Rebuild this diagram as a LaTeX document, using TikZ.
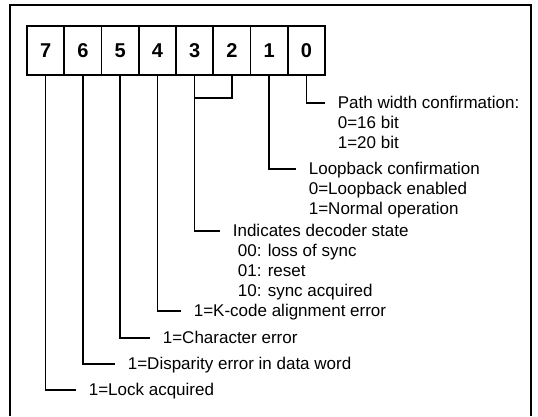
\documentclass[tikz,border=0pt]{standalone}
\usepackage{fontspec}
\setmainfont{Liberation Sans}
\usetikzlibrary{positioning}
\newcommand{\lbl}{\fontsize{17}{20}\selectfont}
\newcommand{\digit}{\fontsize{20}{22}\selectfont\bfseries}

\begin{document}
\begin{tikzpicture}[x=1pt,y=-1pt,line width=1.7pt,
  bitbox/.style={draw,minimum width=37.25pt,minimum height=49pt,inner sep=0pt,font=\digit},
  desc/.style={anchor=west,inner sep=0pt,text height=13pt,text depth=3pt,font=\lbl},
  lead/.style={shorten >=12pt}]
  \useasboundingbox (0,0) rectangle (538,416);
  %% outer frame (open at the bottom)
  \draw (10,416) -- (10,5) -- (531,5) -- (531,416);
  %% register bits 7..0
  \foreach \b [count=\i from 0] in {7,6,5,4,3,2,1,0}
    \node[bitbox] (b\b) at (45.6+37.25*\i,50.5) {\b};
  %% field descriptions
  \node[desc] (t0) at (337,103) {Path width confirmation:};
  \foreach \s [count=\k] in {0=16 bit,1=20 bit}
    \node[desc] (t0-\k) at (337,103+20*\k) {\s};
  \node[desc] (t1) at (308,169) {Loopback confirmation};
  \foreach \s [count=\k] in {0=Loopback enabled,1=Normal operation}
    \node[desc] (t1-\k) at (308,169+20*\k) {\s};
  \node[desc] (t3) at (232,231) {Indicates decoder state};
  \foreach \s [count=\k] in {00: loss of sync,01: reset,10: sync acquired}
    \node[desc] (t3-\k) at (237,231+20*\k) {\s};
  \node[desc] (t4) at (193,311) {1=K-code alignment error};
  \node[desc] (t5) at (162,338) {1=Character error};
  \node[desc] (t6) at (127,364) {1=Disparity error in data word};
  \node[desc] (t7) at (88,390) {1=Lock acquired};
  %% leader lines
  \coordinate (j32) at ([yshift=-22pt]b3.south);
  \draw (b2.south) |- (j32);
  \draw[lead] (b0.south) |- (t0.west);
  \draw[lead] (b1.south) |- (t1.west);
  \draw[lead] (b3.south) |- (t3.west);
  \draw[lead] (b4.south) |- (t4.west);
  \draw[lead] (b5.south) |- (t5.west);
  \draw[lead] (b6.south) |- (t6.west);
  \draw[lead] (b7.south) |- (t7.west);
\end{tikzpicture}
\end{document}
